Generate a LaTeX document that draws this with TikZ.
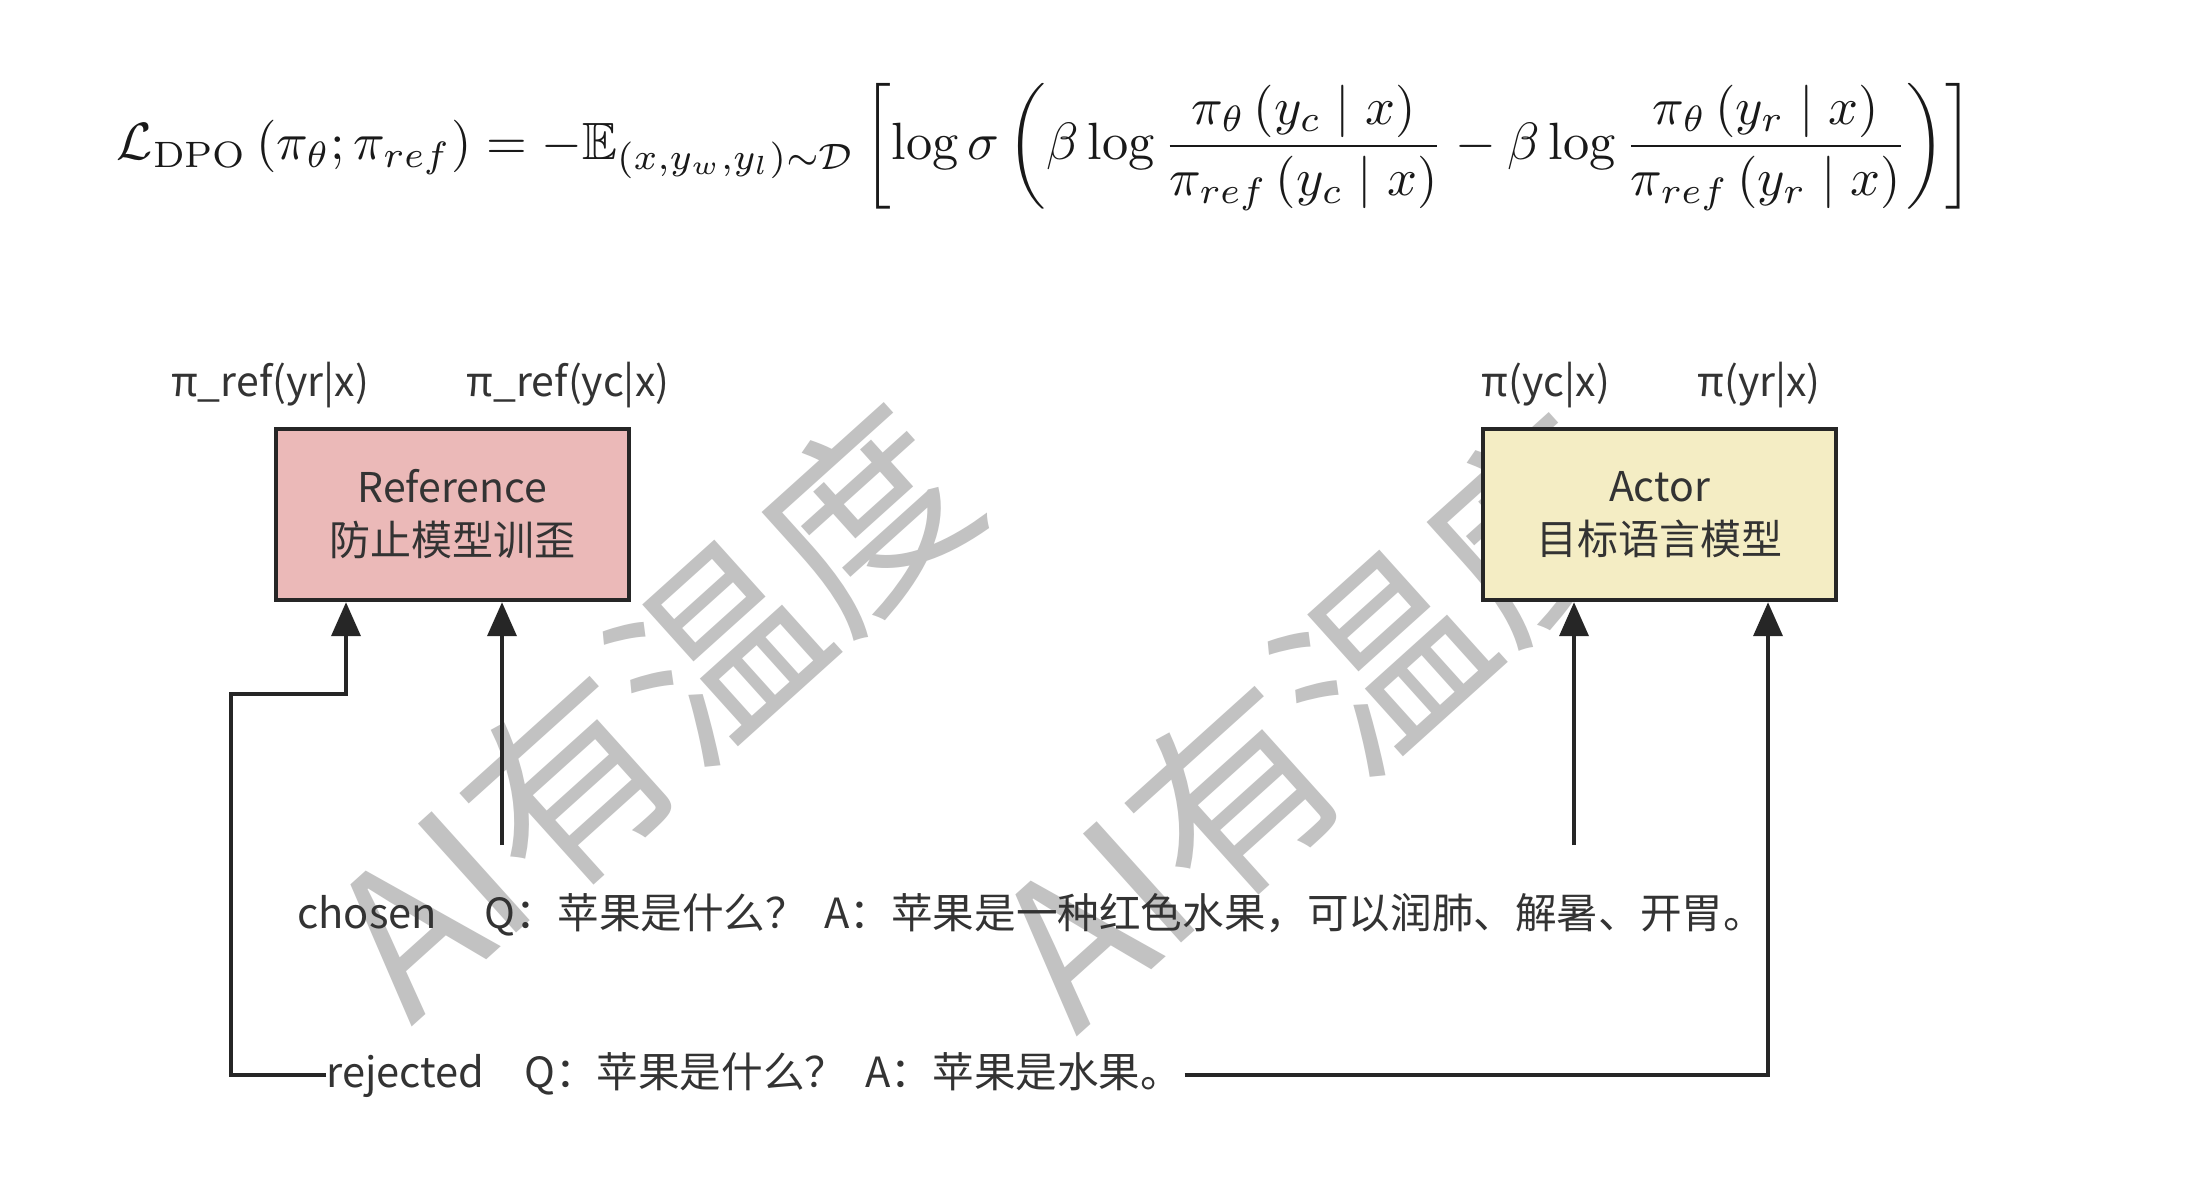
\documentclass[tikz,border=0pt]{standalone}
\usepackage{amsmath,amssymb}
\usepackage{fontspec}
\newfontfamily\cjk{Noto Sans CJK SC}
\usetikzlibrary{arrows.meta}
\definecolor{txt}{HTML}{333333}
\definecolor{refpink}{HTML}{EBB9B8}
\definecolor{actyellow}{HTML}{F4EDC4}
\definecolor{edge}{HTML}{262626}
\definecolor{wmgray}{HTML}{C2C2C2}
\tikzset{
  model/.style={draw=edge, line width=2.2pt, minimum width=176.5pt, minimum height=85.5pt,
    align=center, text=txt, font=\cjk\fontsize{20.5pt}{26.5pt}\selectfont, inner sep=0pt},
  lbl/.style={text=txt, font=\cjk\fontsize{20.5pt}{24pt}\selectfont, inner sep=0pt},
  sample/.style={text=txt, font=\cjk\fontsize{20.8pt}{24pt}\selectfont, inner sep=0pt, anchor=west},
  conn/.style={draw=edge, line width=1.9pt, -{Triangle[length=17pt,width=14.5pt]}},
  wm/.style={text=wmgray, rotate=42, font=\cjk\fontsize{100pt}{100pt}\selectfont, inner sep=0pt}
}
\begin{document}
\begin{tikzpicture}[x=0.5pt,y=-0.5pt]
\useasboundingbox (0,0) rectangle (2198,1196);
\fill[white] (0,0) rectangle (2198,1196);
% watermarks (behind)
\node[wm] (wm1) at (650,710) {AI有温度};
\node[wm] (wm2) at (1315,720) {AI有温度};
% formula
\node[inner sep=0pt, text=black!90] (formula) at (1045,147) {\resizebox{928pt}{!}{$\displaystyle \mathcal{L}_{\mathrm{DPO}}\left(\pi_{\theta};\pi_{ref}\right)=-\mathbb{E}_{\left(x,y_{w},y_{l}\right)\sim\mathcal{D}}\left[\log\sigma\left(\beta\log\frac{\pi_{\theta}\left(y_{c}\mid x\right)}{\pi_{ref}\left(y_{c}\mid x\right)}-\beta\log\frac{\pi_{\theta}\left(y_{r}\mid x\right)}{\pi_{ref}\left(y_{r}\mid x\right)}\right)\right]$}};
% models
\node[model, fill=refpink] (ref) at (452.5,514.5) {Reference\\防止模型训歪};
\node[model, fill=actyellow] (act) at (1659.5,514.5) {Actor\\目标语言模型};
% output labels
\node[lbl] (l1) at (270,385) {π\_ref(yr|x)};
\node[lbl] (l2) at (568,385) {π\_ref(yc|x)};
\node[lbl] (l3) at (1546,385) {π(yc|x)};
\node[lbl] (l4) at (1759,385) {π(yr|x)};
% samples
\node[sample] (cho) at (297,915) {chosen\hspace{24pt}Q：苹果是什么？\hspace{4pt} A：苹果是一种红色水果，可以润肺、解暑、开胃。};
\node[sample] (rej) at (326,1075) {rejected\hspace{20pt}Q：苹果是什么？\hspace{5pt} A：苹果是水果。};
% connectors
\coordinate (k2) at (231,694);
\coordinate (xa) at (346,694);
\coordinate (c1) at (502,845);
\coordinate (c2) at (1574,845);
\coordinate (xb) at (1768,1075);
\draw[conn] (rej.west) -| (k2) -| (xa |- ref.south);
\draw[conn] (c1) -- (c1 |- ref.south);
\draw[conn] (c2) -- (c2 |- act.south);
\draw[conn] ([xshift=1pt]rej.east) -| (xb |- act.south);
\end{tikzpicture}
\end{document}
